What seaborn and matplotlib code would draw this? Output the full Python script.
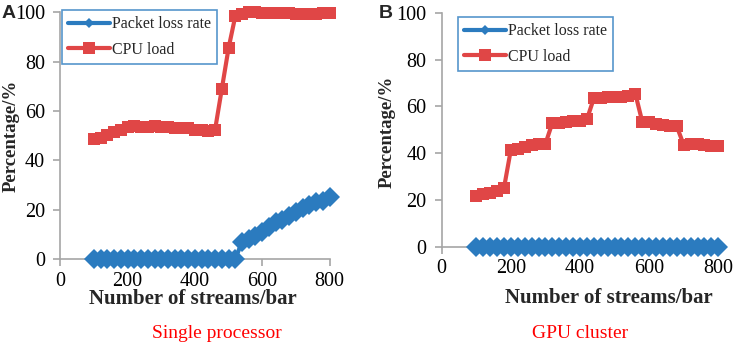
import numpy as np
import pandas as pd
import matplotlib
matplotlib.use("Agg")
import matplotlib.pyplot as plt
from matplotlib.lines import Line2D
import seaborn as sns

streams = list(range(100, 801, 20))

loss_single = [0]*22 + [7, 8, 9.5, 11, 13, 15, 16, 17.5, 19, 20.5, 22, 23, 23.5, 25]
cpu_single = [48.5, 49, 50.5, 51.5, 52.5, 53.5, 54, 53.5, 53.5, 54, 53.5, 53.5, 53, 53,
              53, 52.5, 52.5, 52, 52.5, 69, 85.5, 98.5, 99.5, 100, 100, 99.8, 99.8, 99.7,
              99.6, 99.6, 99.5, 99.5, 99.4, 99.5, 99.6, 99.8]

loss_gpu = [0]*36
cpu_gpu = [21.5, 22.5, 23, 24, 25,
           41.5, 42, 42.5, 43.5, 44, 44,
           53, 53, 53.5, 54, 54, 54.5,
           63.5, 63.5, 64, 64, 64, 64.5, 65.5,
           53.5, 53.5, 52.5, 52, 51.5, 51.5,
           43.5, 44, 44, 43.5, 43, 43]

series_names = ["Packet loss rate", "CPU load"]
captions = ["Single processor", "GPU cluster"]
panel_letters = ["A", "B"]
x_ticks = [0, 200, 400, 600, 800]
y_ticks = [0, 20, 40, 60, 80, 100]

BLUE = "#2B7BBF"
RED = "#E04646"
GRAY = "#A6A6A6"

sns.set_style("white")
plt.rcParams["font.family"] = ["Liberation Serif", "DejaVu Serif"]

W, H = 733, 343
fig = plt.figure(figsize=(W/100, H/100), dpi=100)

def px_axes(l, t, r, b):
    return fig.add_axes([l/W, 1 - b/H, (r-l)/W, (b-t)/H])

axA = px_axes(60.3, 12.5, 329.5, 259)
axB = px_axes(441.7, 13, 718.3, 246.7)

def draw(ax, loss, cpu):
    df = pd.DataFrame({"streams": streams, "loss": loss, "cpu": cpu})
    sns.lineplot(data=df, x="streams", y="loss", ax=ax, color=BLUE, marker="D",
                 markersize=10, markeredgewidth=0, linewidth=3, clip_on=False, zorder=3)
    sns.lineplot(data=df, x="streams", y="cpu", ax=ax, color=RED, marker="s",
                 markersize=9, markeredgewidth=0, linewidth=3, clip_on=False, zorder=3)
    ax.set_xlim(0, 800)
    ax.set_ylim(0, 100)
    ax.set_xticks(x_ticks)
    ax.set_yticks(y_ticks)
    for s in ["top", "right"]:
        ax.spines[s].set_visible(False)
    for s in ["left", "bottom"]:
        ax.spines[s].set_color(GRAY)
        ax.spines[s].set_linewidth(1.2)
    ax.tick_params(axis="both", which="major", direction="out", length=5, width=1.2,
                   color=GRAY, labelsize=14.5, labelcolor="black", left=True, bottom=True)
    ax.tick_params(axis="x", pad=4)
    ax.tick_params(axis="y", pad=6)
    ax.set_xlabel("Number of streams/bar", fontsize=15, fontweight="bold")
    ax.set_ylabel("Percentage/%", fontsize=13.5, fontweight="bold")
    handles = [Line2D([], [], color=BLUE, marker="D", markersize=5, lw=3, markeredgewidth=0),
               Line2D([], [], color=RED, marker="s", markersize=8, lw=3, markeredgewidth=0)]
    return handles

hA = draw(axA, loss_single, cpu_single)
hB = draw(axB, loss_gpu, cpu_gpu)

axA.xaxis.set_label_coords(0.494, -0.122)
axA.yaxis.set_label_coords(-0.152, 0.50)
axB.xaxis.set_label_coords(0.605, -0.175)
axB.yaxis.set_label_coords(-0.166, 0.49)

for ax, h, anchor in [(axA, hA, (62, 10, 220, 64)), (axB, hB, (458, 17, 607, 72))]:
    leg = ax.legend(h, series_names, loc="upper left",
                    bbox_to_anchor=(anchor[0]/W, 1 - anchor[1]/H), bbox_transform=fig.transFigure,
                    frameon=True, fancybox=False, fontsize=11.5, handlelength=2.6,
                    handletextpad=0.1, borderpad=0.4, labelspacing=0.6, borderaxespad=0)
    leg.get_frame().set_edgecolor(BLUE)
    leg.get_frame().set_linewidth(1.2)

fig.text(2/W, 1 - 13/H, panel_letters[0], fontsize=14, fontweight="bold",
         family="Liberation Sans", va="center", ha="left")
fig.text(379/W, 1 - 13/H, panel_letters[1], fontsize=14, fontweight="bold",
         family="Liberation Sans", va="center", ha="left")

fig.text(217/W, 1 - 333/H, captions[0], color="red", fontsize=14, ha="center", va="center")
fig.text(580/W, 1 - 333/H, captions[1], color="red", fontsize=14, ha="center", va="center")

fig.savefig("out.png", dpi=100)
